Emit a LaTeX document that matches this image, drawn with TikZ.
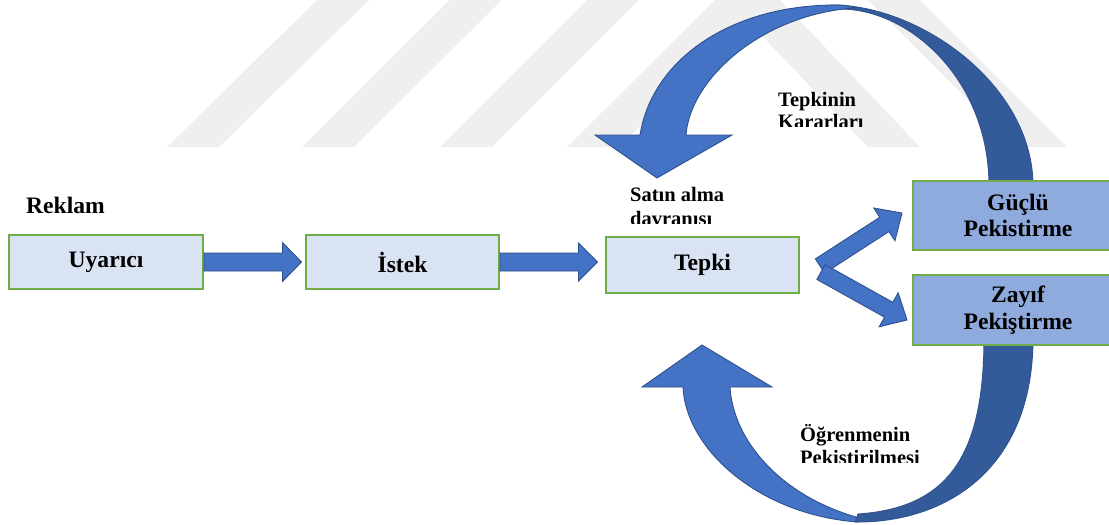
\documentclass[tikz,border=0pt]{standalone}
\usepackage{fontspec}
\setmainfont{Liberation Serif}
\usetikzlibrary{calc}

\definecolor{boxfill}{HTML}{DAE3F3}
\definecolor{boxdark}{HTML}{8FAADC}
\definecolor{boxline}{HTML}{70AD47}
\definecolor{arrowfill}{HTML}{4472C4}
\definecolor{arrowline}{HTML}{2F528F}
\definecolor{arrowback}{HTML}{335A99}
\definecolor{stripe}{HTML}{EFEFEF}

% straight block arrow: start, end, shaft half width, head half width, head length
\newcommand{\blockarrow}[5]{%
  \path let \p1=(#1), \p2=(#2) in
    \pgfextra{%
      \pgfmathsetmacro\arang{atan2(\y2-\y1,\x2-\x1)}%
      \pgfmathsetmacro\arlen{veclen(\x2-\x1,\y2-\y1)}%
      \global\let\barang\arang \global\let\barlen\arlen};
  \begin{scope}[shift={(#1)}, rotate=\barang]
    \filldraw[flowarrow] (0,#3) -- (\barlen-#5,#3) -- (\barlen-#5,#4) -- (\barlen,0)
      -- (\barlen-#5,-#4) -- (\barlen-#5,-#3) -- (0,-#3) -- cycle;
  \end{scope}}

\tikzset{
  flowarrow/.style={fill=arrowfill, draw=arrowline, line width=0.9pt, line join=miter},
  frontband/.style={fill=arrowfill, draw=arrowline, line width=0.9pt},
  backband/.style={fill=arrowback, draw=arrowline, line width=0.9pt},
  boxtext/.style={font=\fontsize{23.6}{26.5}\selectfont\bfseries, align=center, text=black},
  lightbox/.style={boxtext, draw=boxline, line width=2pt, fill=boxfill, inner sep=0pt},
  darkbox/.style={boxtext, draw=boxline, line width=2pt, fill=boxdark, inner sep=0pt},
  note/.style={font=\fontsize{20.5}{23}\selectfont\bfseries, inner sep=0pt, anchor=base west},
  wmark/.style={fill=stripe}
}

\begin{document}
\begin{tikzpicture}[x=1pt, y=-1pt]
  \useasboundingbox (0,0) rectangle (1109,525);
  \fill[white] (0,0) rectangle (1109,525);

  % faint diagonal stripes in the background
  \foreach \b/\t in {167/317, 302/450, 440/587, 567/715}
    \fill[wmark] (\b,147) -- (\b+52,147) -- (\t+52,0) -- (\t,0) -- cycle;
  \foreach \t/\b in {728/868, 868/1015}
    \fill[wmark] (\t,0) -- (\t+52,0) -- (\b+52,147) -- (\b,147) -- cycle;

  % upper curved arrow: back face, then front face with head
  \filldraw[backband] (832,5) .. controls (920,5) and (1033,85) .. (1033,186)
    -- (989,186) .. controls (989,80) and (910,9) .. (840,9) -- cycle;
  \filldraw[frontband] (657,178) -- (595,135) -- (640,135)
    .. controls (652,60) and (730,5) .. (836,5)
    .. controls (845,5) and (850,6) .. (854,8)
    .. controls (760,15) and (690,80) .. (686,135)
    -- (732,135) -- cycle;

  % lower curved arrow: front face with head, then back face
  \filldraw[frontband] (702,345) -- (642,387) -- (683,387)
    .. controls (686,450) and (760,515) .. (858,522)
    -- (856,517) .. controls (780,495) and (733,440) .. (730,387)
    -- (772,387) -- cycle;
  \filldraw[backband] (1033,338) .. controls (1033,470) and (945,523) .. (855,522)
    -- (858,514) .. controls (945,508) and (984,460) .. (984,338) -- cycle;

  % boxes
  \node[lightbox, minimum width=194, minimum height=54] (uyarici) at (106,262) {Uyarıcı};
  \node[lightbox, minimum width=193, minimum height=54] (istek) at (402.5,262) {İstek};
  \node[lightbox, minimum width=193, minimum height=56] (tepki) at (702.5,265) {Tepki};
  \node[darkbox, minimum width=210, minimum height=69] (guclu) at (1018,215.5) {Güçlü\\Pekistirme};
  \node[darkbox, minimum width=210, minimum height=70] (zayif) at (1018,310) {Zayıf\\Pekiştirme};

  % flow arrows
  \coordinate (i1) at ($(istek.west)+(-3.5,0)$);
  \coordinate (t1) at ($(tepki.west |- istek.east)+(-7.5,0)$);
  \coordinate (d0) at ($(tepki.east)+(20,1)$);
  \coordinate (g1) at ($(guclu.west)+(-10,-2.5)$);
  \coordinate (e0) at ($(tepki.east)+(21,7)$);
  \coordinate (z1) at ($(zayif.west)+(-5,10)$);
  \blockarrow{uyarici.east}{i1}{9}{19.5}{19}
  \blockarrow{istek.east}{t1}{9}{19}{19}
  \blockarrow{d0}{g1}{8.5}{19.5}{21}
  \blockarrow{e0}{z1}{8.5}{19.5}{21}

  % labels
  \node[note, font=\fontsize{23.6}{26}\selectfont\bfseries] (reklam) at (26,213) {Reklam};
  \begin{scope}
    \clip (620,180) rectangle (760,223.5);
    \node[note] (satin) at (630,201.5) {Satın alma};
    \node[note] (davr) at (630,225) {davranısı};
  \end{scope}
  \begin{scope}
    \clip (760,85) rectangle (880,126.5);
    \node[note] (tepkinin) at (778,106.5) {Tepkinin};
    \node[note] (kararlari) at (778,128.5) {Kararları};
  \end{scope}
  \begin{scope}
    \clip (790,415) rectangle (940,462.5);
    \node[note] (ogrenme) at (800,441) {Öğrenmenin};
    \node[note] (pekis) at (800,464.5) {Pekistirilmesi};
  \end{scope}
\end{tikzpicture}
\end{document}
